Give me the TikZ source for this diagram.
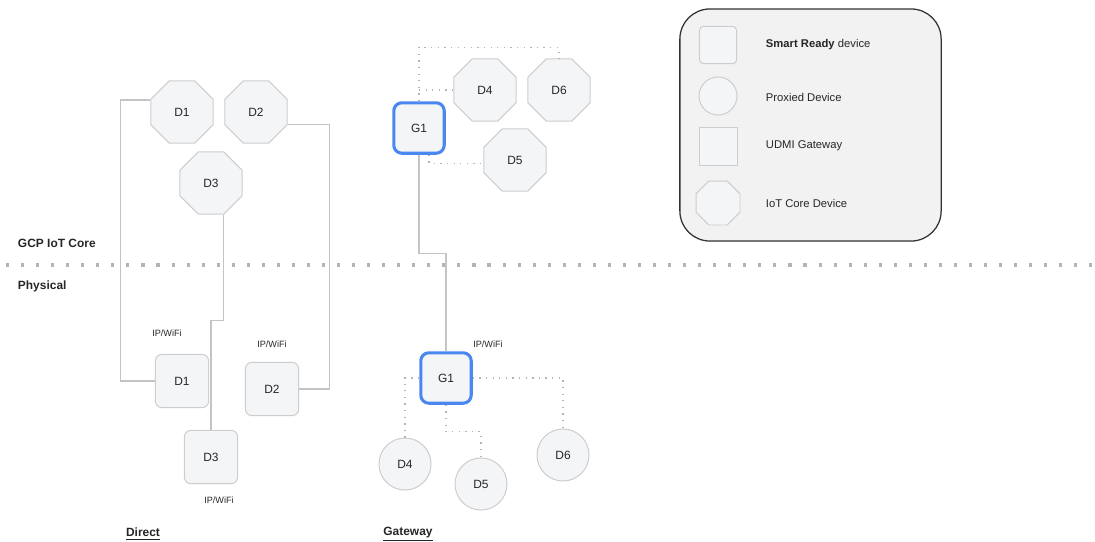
\documentclass[tikz,border=0pt]{standalone}
\usepackage{fontspec}
\setmainfont{Liberation Sans}
\usetikzlibrary{shapes.geometric}
\definecolor{linegray}{HTML}{C4C4C6}
\definecolor{dotgray}{HTML}{B4B4B4}
\definecolor{shapefill}{HTML}{F4F5F7}
\definecolor{shapeline}{HTML}{CDCDCF}
\definecolor{gwblue}{HTML}{4A87F0}
\definecolor{legendfill}{HTML}{F2F2F2}

\begin{document}
\begin{tikzpicture}
[
    x=0.025cm, y=-0.025cm,
    every node/.style={text=black!85, font=\fontsize{8.5}{10}\selectfont},
    coreoct/.style={regular polygon, regular polygon sides=8, minimum size=1.68cm, inner sep=0pt, draw=shapeline, fill=shapefill, line width=0.7pt},
    readybox/.style={rectangle, rounded corners=0.16cm, minimum size=1.33cm, draw=shapeline, fill=shapefill, line width=0.7pt},
    gwbox/.style={rectangle, rounded corners=0.2cm, minimum size=1.26cm, draw=gwblue, fill=shapefill, line width=2.2pt},
    proxcirc/.style={circle, minimum size=1.3cm, inner sep=0pt, draw=shapeline, fill=shapefill, line width=0.7pt},
    link/.style={draw=linegray, line width=0.9pt},
    dots/.style={draw=dotgray, line width=0.9pt, dash pattern=on 0.9pt off 3.8pt},
    wifi/.style={font=\fontsize{6.5}{8}\selectfont},
    heading/.style={font=\bfseries\fontsize{8.5}{10}\selectfont},
    legendtext/.style={anchor=west, font=\fontsize{8}{10}\selectfont},
]
\useasboundingbox (0,0) rectangle (1095,541);

% layer separator
\draw[dotgray, line width=2.2pt, dash pattern=on 2.2pt off 8.5pt] (6,265) -- (1095,265);
\node[heading, anchor=west] (gcp) at (13,243) {GCP IoT Core};
\node[heading, anchor=west] (phys) at (13,286) {Physical};

% direct
\node[coreoct] (od1) at (182,112) {D1};
\node[coreoct] (od2) at (256,112) {D2};
\node[coreoct] (od3) at (211,183) {D3};
\node[readybox] (sd1) at (182,381) {D1};
\node[readybox] (sd2) at (272,389) {D2};
\node[readybox] (sd3) at (211,457) {D3};
\draw[link] ([yshift=0.3cm]od1.west) -- ++(-30,0) |- (sd1.west);
\draw[link] ([yshift=-0.32cm]od2.east) -- ++(42,0) |- (sd2.east);
\draw[link] ([xshift=0.32cm]od3.south) -- ++(0,106) -| (sd3.north);
\node[wifi] (w1) at (167,333) {IP/WiFi};
\node[wifi] (w2) at (272,344) {IP/WiFi};
\node[wifi] (w3) at (219,500) {IP/WiFi};
\node[heading] (direct) at (143,534) {\underline{Direct}};

% gateway
\node[gwbox] (gt) at (419,128) {G1};
\node[coreoct] (od4) at (485,90) {D4};
\node[coreoct] (od6) at (559,90) {D6};
\node[coreoct] (od5) at (515,160) {D5};
\draw[dots] (gt.north) -- ++(0,-54) -| (od6.north);
\draw[dots] (gt.north |- od4.west) -- (od4.west);
\draw[dots] ([xshift=0.25cm]gt.south) |- ([yshift=-0.08cm]od5.west);
\node[gwbox] (gb) at (446,378) {G1};
\node[proxcirc] (pd4) at (405,464) {D4};
\node[proxcirc] (pd5) at (481,484) {D5};
\node[proxcirc] (pd6) at (563,455) {D6};
\draw[dots] (gb.west) -| (pd4.north);
\draw[dots] (gb.south) -- ++(0,27) -| (pd5.north);
\draw[dots] (gb.east) -| (pd6.north);
\draw[link] (gt.south) -- ++(0,99) -| (gb.north);
\node[wifi] (w4) at (488,344) {IP/WiFi};
\node[heading] (gateway) at (408,534) {\underline{Gateway}};

% legend
\node[rectangle, rounded corners=0.75cm, minimum width=6.53cm, minimum height=5.8cm, draw=black!80, fill=legendfill, line width=0.9pt] (legend) at (810.5,125) {};
\node[readybox, minimum size=0.93cm, rounded corners=0.1cm] (lready) at (718,45) {};
\node[proxcirc, minimum size=0.95cm] (lprox) at (718,96) {};
\node[rectangle, minimum size=0.95cm, draw=shapeline, fill=shapefill, line width=0.7pt] (lgw) at (718,146) {};
\node[coreoct, minimum size=1.19cm] (lcore) at (718,203) {};
\node[legendtext] (tready) at (761,45) {\textbf{Smart Ready} device};
\node[legendtext] (tprox) at (761,97) {Proxied Device};
\node[legendtext] (tgw) at (761,146) {UDMI Gateway};
\node[legendtext] (tcore) at (761,203) {IoT Core Device};
\end{tikzpicture}
\end{document}
